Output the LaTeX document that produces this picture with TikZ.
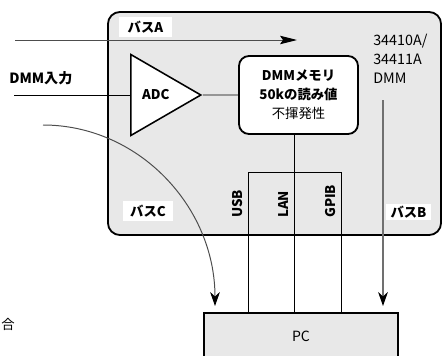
\documentclass[tikz,border=0pt]{standalone}
\usepackage{fontspec}
\setmainfont{Noto Sans CJK JP}
\usepackage{tikz}
\usetikzlibrary{arrows.meta,positioning,shapes.geometric,calc}
\definecolor{boxgray}{HTML}{E8E8E8}
\definecolor{linegray}{HTML}{4D4D4D}
\definecolor{busgray}{HTML}{707070}

\begin{document}
\begin{tikzpicture}[x=0.025cm,y=-0.025cm,
  frame/.style={draw=black,fill=boxgray,line width=1.3pt,rounded corners=0.3cm,minimum width=8.325cm,minimum height=5.575cm,inner sep=0pt},
  buslbl/.style={fill=white,font=\fontsize{9.5}{10}\selectfont\bfseries,inner sep=0pt,minimum height=0.5cm},
  adcbox/.style={draw=black,fill=white,line width=1.1pt,isosceles triangle,isosceles triangle stretches,minimum width=2.025cm,minimum height=1.75cm,inner sep=0pt,font=\fontsize{9.5}{10}\selectfont\bfseries},
  membox/.style={draw=black,fill=white,line width=1.3pt,rounded corners=0.25cm,minimum width=2.975cm,minimum height=1.95cm,align=center,font=\fontsize{9.5}{13.5}\selectfont},
  pcbox/.style={draw=black,fill=boxgray,line width=1.3pt,minimum width=4.85cm,minimum height=1.175cm,font=\fontsize{10}{11}\selectfont},
  iflbl/.style={rotate=90,anchor=west,inner sep=0pt,font=\fontsize{9.5}{10}\selectfont\bfseries},
  thinln/.style={black,line width=0.6pt},
  busln/.style={linegray,line width=0.7pt},
  tip/.style={-{Stealth[length=10pt,width=7pt,color=black]}}]
\useasboundingbox (0,0) rectangle (442,356);
% ---------- instrument ----------
\node[frame] (dmm) at (274.5,123.5) {};
\node[buslbl,minimum width=1.325cm] (busA) at (145.5,27) {バスA};
\node[buslbl,minimum width=1.25cm] (busC) at (148,211) {バスC};
\node[buslbl,minimum width=1.125cm,minimum height=0.4cm] (busB) at (408.5,212) {バスB};
\node[font=\fontsize{10.2}{13.5}\selectfont,align=left,anchor=north west,inner sep=0pt] (model) at (373,34) {34410A/\\34411A\\DMM};
\node[adcbox,anchor=west] (adc) at (130,95) {ADC};
\node[membox] (mem) at (298.5,95) {\textbf{DMMメモリ}\\\textbf{50kの読み値}\\不揮発性};
\node[font=\fontsize{10}{11}\selectfont\bfseries,anchor=west,inner sep=0pt] (inlbl) at (9,78) {DMM入力};
% ---------- pc ----------
\node[pcbox] (pc) at (301,336.5) {PC};
\node[font=\fontsize{9.5}{10}\selectfont,inner sep=0pt,anchor=west] (cut) at (1,324) {合};
% ---------- connectors ----------
\coordinate (a0) at (15,40);
\coordinate (a1) at (297,40);
\coordinate (in0) at (14,95);
\coordinate (c0) at (43,125);
\coordinate (b0) at (383,100);
\coordinate (b1) at (383,306);
\coordinate (usbt) at (248,172);
\coordinate (lant) at (294,172);
\coordinate (gpibt) at (341,172);
\draw[busln,-{Stealth[length=12pt,width=6pt,inset=2pt,color=black]}] (a0) -- (a1);
\draw[thinln] (in0) -- (adc.west);
\draw[thinln] (adc.apex) -- (mem.west);
\draw[busln,tip] (c0) arc[start angle=270,end angle=360,x radius=172,y radius=181];
\draw[busgray,line width=0.9pt,tip] (b0) -- (b1);
\draw[thinln] (usbt |- pc.north) -- (usbt) -- (gpibt) -- (gpibt |- pc.north);
\draw[thinln] (mem.south -| lant) -- (lant |- pc.north);
\foreach \n/\x in {USB/248,LAN/294,GPIB/341}{
  \node[iflbl] (\n) at (\x-10,218) {\n};
}
\end{tikzpicture}
\end{document}
